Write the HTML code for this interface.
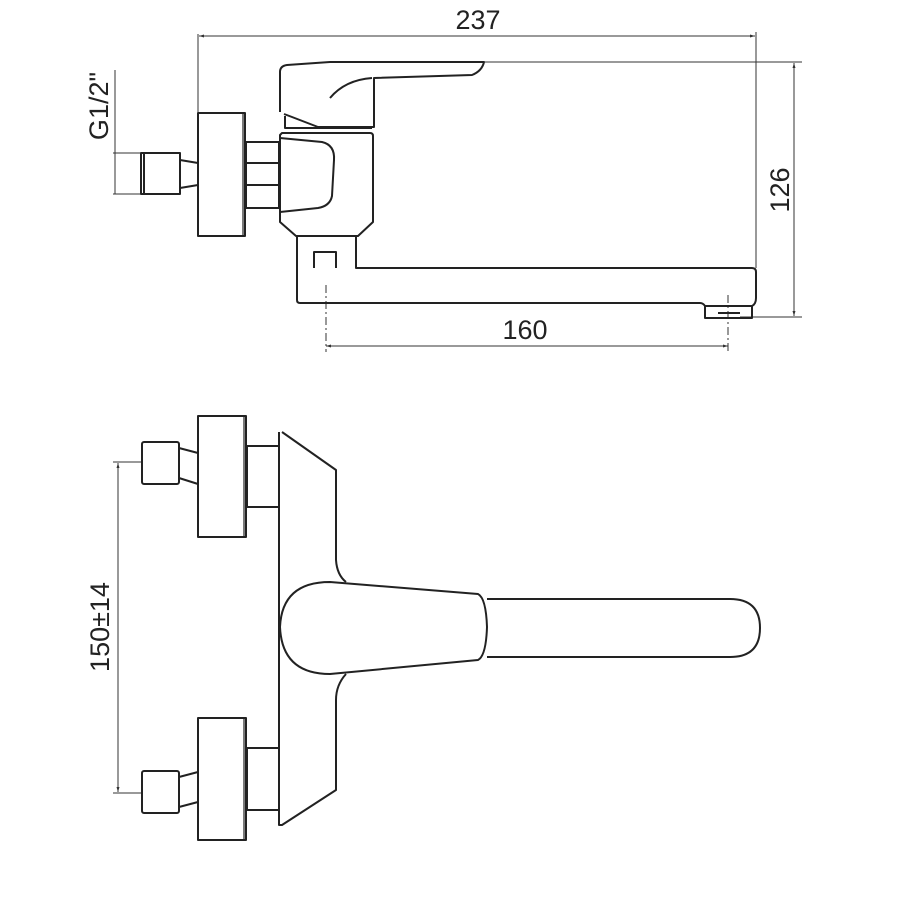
<!DOCTYPE html>
<html><head><meta charset="utf-8"><style>html,body{margin:0;padding:0;background:#fff}svg{display:block}text{font-family:"Liberation Sans",sans-serif;fill:#222}</style></head>
<body>
<svg width="900" height="900" viewBox="0 0 900 900" xmlns="http://www.w3.org/2000/svg">
<defs>
<marker id="a" viewBox="0 0 10 10" refX="10" refY="5" markerWidth="7" markerHeight="5" orient="auto-start-reverse"><path d="M0,2 L10,5 L0,8 z" fill="#333"/></marker>
</defs>
<g fill="none" stroke="#333" stroke-width="1">
<line x1="198" y1="34" x2="198" y2="112"/>
<line x1="756" y1="32" x2="756" y2="268"/>
<line x1="199" y1="36" x2="755" y2="36" marker-start="url(#a)" marker-end="url(#a)"/>
<line x1="484" y1="62" x2="802" y2="62"/>
<line x1="740" y1="317" x2="802" y2="317"/>
<line x1="794" y1="63" x2="794" y2="316" marker-start="url(#a)" marker-end="url(#a)"/>
<line x1="326" y1="346" x2="728" y2="346" marker-start="url(#a)" marker-end="url(#a)"/>
<line x1="326" y1="285" x2="326" y2="352" stroke-dasharray="8,3,2,3"/>
<line x1="728" y1="295" x2="728" y2="352" stroke-dasharray="8,3,2,3"/>
<line x1="115" y1="70" x2="115" y2="194"/>
<line x1="113" y1="153" x2="141" y2="153"/>
<line x1="113" y1="194" x2="141" y2="194"/>
<line x1="118" y1="463" x2="118" y2="792" marker-start="url(#a)" marker-end="url(#a)"/>
<line x1="113" y1="462" x2="142" y2="462"/>
<line x1="113" y1="793" x2="142" y2="793"/>
</g>
<g fill="none" stroke="#222" stroke-width="2" stroke-linejoin="round">
<path d="M280,112 L280,72 Q280,66 287,65 L330,62 L484,62 Q482,71 472,75 L374,78 L374,127 L318,127 L292,117 L284,114"/>
<path d="M330,98 Q345,80 372,78"/>
<path d="M285,116 L285,128 L372,128"/>
<path d="M282,133 L370,133 Q373,133 373,136 L373,222 L358,236 L296,236 L280,222 L280,135 Z"/>
<path d="M280,138 L322,142 Q335,145 334,160 L332,196 Q330,206 318,208 L280,212"/>
<path d="M297,236 L297,300 Q297,303 300,303 L700,303 Q703,303 705,306 L705,318 L752,318 L752,306 Q756,304 756,298 L756,272 Q756,268 752,268 L356,268 L356,236"/>
<path d="M314,268 L314,252 L336,252 L336,268"/>
<path d="M705,306 L752,306"/><path d="M718,313 L740,313"/>
<rect x="198" y="113" width="47" height="123"/>
<line x1="243" y1="113" x2="243" y2="236" stroke-width="1.2"/>
<rect x="246" y="142" width="33" height="66"/>
<line x1="246" y1="163" x2="279" y2="163"/><line x1="246" y1="185" x2="279" y2="185"/>
<rect x="141" y="153" width="39" height="41"/>
<line x1="144" y1="153" x2="144" y2="194"/>
<path d="M180,160 L198,163 M180,188 L198,185"/>
<rect x="198" y="416" width="48" height="121"/>
<line x1="244" y1="416" x2="244" y2="537" stroke-width="1.2"/>
<rect x="247" y="446" width="32" height="61"/>
<rect x="142" y="442" width="37" height="42" rx="2"/>
<path d="M179,448 L198,453 M179,478 L198,484"/>
<rect x="198" y="718" width="48" height="122"/>
<line x1="244" y1="718" x2="244" y2="840" stroke-width="1.2"/>
<rect x="247" y="748" width="32" height="62"/>
<rect x="142" y="771" width="37" height="42" rx="2"/>
<path d="M179,777 L198,772 M179,807 L198,802"/>
<path d="M279,432 L279,825 L282,825 L336,790 L336,700 Q336,685 346,674"/>
<path d="M282,432 L336,470 L336,560 Q337,575 346,582"/>
<path d="M330,582 L478,594 Q486,598 487,627 Q486,656 478,660 L330,674 Q282,674 280,627 Q282,582 330,582 Z"/>
<path d="M487,599 L730,599 Q760,599 760,628 Q760,657 730,657 L487,657"/>
</g>
<text x="478" y="29" font-size="27" text-anchor="middle">237</text>
<text x="525" y="339" font-size="27" text-anchor="middle">160</text>
<text transform="translate(789,190) rotate(-90)" font-size="27" text-anchor="middle">126</text>
<text transform="translate(108,106) rotate(-90)" font-size="27" text-anchor="middle">G1/2"</text>
<text transform="translate(109,627) rotate(-90)" font-size="27" text-anchor="middle">150±14</text>
</svg>
</body></html>
